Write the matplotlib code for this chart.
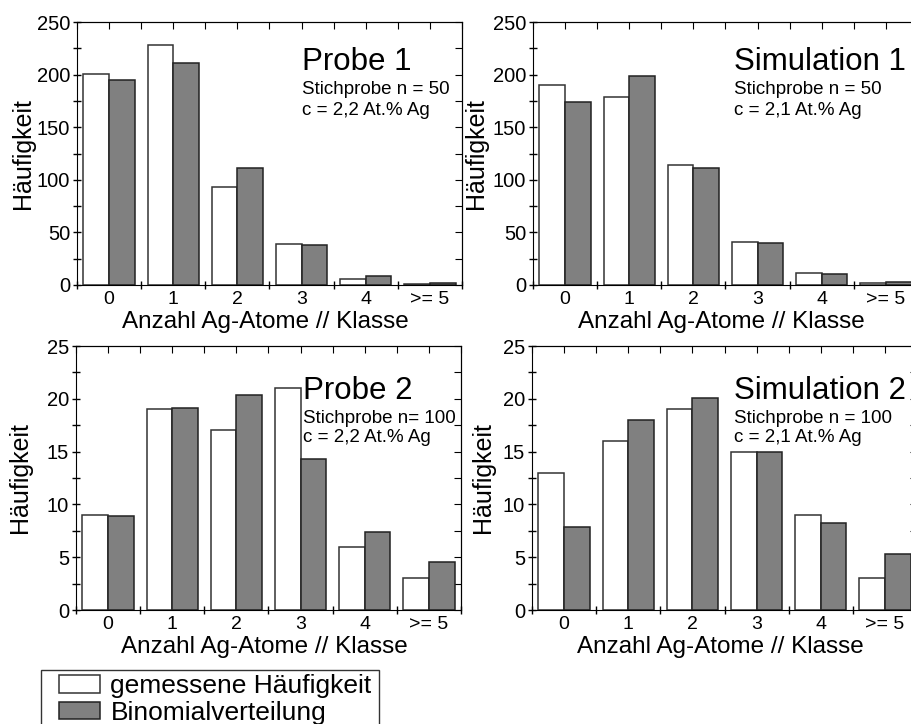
import numpy as np
import matplotlib
matplotlib.use("Agg")
from matplotlib import pyplot as plt
from matplotlib.patches import Patch, Rectangle

plt.rcParams['font.family'] = ['Liberation Sans', 'DejaVu Sans']

klassen = ['0', '1', '2', '3', '4', '>= 5']

# gemessene Haeufigkeit / Binomialverteilung
probe1_mess  = [201, 228, 93, 39, 6, 1]
probe1_binom = [195, 211, 111, 38, 9, 2]
sim1_mess    = [190, 179, 114, 41, 11, 2]
sim1_binom   = [174, 199, 111, 40, 10, 2.5]
probe2_mess  = [9, 19, 17, 21, 6, 3]
probe2_binom = [8.9, 19.1, 20.4, 14.3, 7.4, 4.5]
sim2_mess    = [13, 16, 19, 15, 9, 3]
sim2_binom   = [7.9, 18.0, 20.1, 15.0, 8.2, 5.3]

titel = ['Probe 1', 'Simulation 1', 'Probe 2', 'Simulation 2']
stichprobe = ['Stichprobe n = 50', 'Stichprobe n = 50',
              'Stichprobe n= 100', 'Stichprobe n = 100']
konz = ['c = 2,2 At.% Ag', 'c = 2,1 At.% Ag', 'c = 2,2 At.% Ag', 'c = 2,1 At.% Ag']

W, H = 912, 724
fig = plt.figure(figsize=(W / 100, H / 100), dpi=100)

# axes boxes in pixels: left, top, bottom
boxes = [(77, 22, 285), (533, 22, 285), (76, 346, 610), (532, 346, 610)]
axw = 385
data = [(probe1_mess, probe1_binom, 250, 50, 25),
        (sim1_mess, sim1_binom, 250, 50, 25),
        (probe2_mess, probe2_binom, 25, 5, 2.5),
        (sim2_mess, sim2_binom, 25, 5, 2.5)]
text_x = [0.584, 0.522, 0.59, 0.525]
text_y = [(0.905, 0.774, 0.696), (0.905, 0.774, 0.696),
          (0.886, 0.759, 0.684), (0.886, 0.759, 0.684)]
ylab_x = [-0.109, -0.117, -0.114, -0.096]

x = np.arange(len(klassen))
for i, ((l, t, b), (mess, binom, ymax, ymaj, ymin)) in enumerate(zip(boxes, data)):
    ax = fig.add_axes([l / W, (H - b) / H, axw / W, (b - t) / H])
    ax.bar(x - 0.2, mess, width=0.4, color='white', edgecolor='#333333', linewidth=1.1)
    ax.bar(x + 0.2, binom, width=0.4, color='#808080', edgecolor='#222222', linewidth=1.1)
    ax.set_xlim(-0.5, 5.5)
    ax.set_ylim(0, ymax)

    ax.set_xticks(x, klassen, fontsize=14)
    ax.set_xticks(np.arange(-0.5, 6, 1), minor=True)
    ax.tick_params(axis='x', which='major', length=0, pad=4)
    ax.tick_params(axis='x', which='minor', direction='inout', length=6, width=1)
    ax.set_yticks(np.arange(0, ymax + 0.1, ymaj))
    ax.set_yticks(np.arange(0, ymax + 0.1, ymin), minor=True)
    ax.tick_params(axis='y', which='both', direction='inout', length=6, width=1,
                   labelsize=14.5, pad=2)

    top = ax.secondary_xaxis('top')
    top.set_xticks(np.arange(-0.5, 6, 0.5))
    top.tick_params(direction='in', length=5, labeltop=False)
    right = ax.secondary_yaxis('right')
    right.set_yticks(np.arange(0, ymax + 0.1, ymin))
    right.tick_params(direction='in', length=5, labelright=False)

    ax.set_xlabel('Anzahl Ag-Atome // Klasse', fontsize=17.5)
    ax.xaxis.set_label_coords(0.49, -0.098)
    ax.set_ylabel('Häufigkeit', fontsize=18)
    ax.yaxis.set_label_coords(ylab_x[i], 0.5)

    ty = text_y[i]
    ax.text(text_x[i], ty[0], titel[i], transform=ax.transAxes,
            fontsize=22.5, va='top', ha='left')
    ax.text(text_x[i], ty[1], stichprobe[i], transform=ax.transAxes,
            fontsize=13.5, va='top', ha='left')
    ax.text(text_x[i], ty[2], konz[i], transform=ax.transAxes,
            fontsize=13.5, va='top', ha='left')

# legend frame (runs off the bottom edge like in the original)
fig.patches.append(Rectangle((41 / W, -0.05), (379 - 41) / W, 0.05 + (H - 670) / H,
                             transform=fig.transFigure, facecolor='white',
                             edgecolor='#333333', linewidth=1, zorder=0))
handles = [Patch(facecolor='white', edgecolor='#333333', linewidth=1.1),
           Patch(facecolor='#808080', edgecolor='#222222', linewidth=1.1)]
leg = fig.legend(handles, ['gemessene Häufigkeit', 'Binomialverteilung'],
                 loc='upper left', bbox_to_anchor=(59 / W, 1 - 674 / H),
                 fontsize=19, frameon=False, borderpad=0, handlelength=1.55,
                 handleheight=0.65, handletextpad=0.4, labelspacing=0.1,
                 borderaxespad=0)

fig.savefig('out.png', dpi=100)
